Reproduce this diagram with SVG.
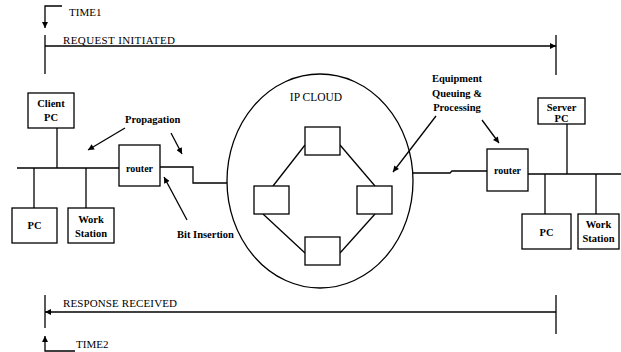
<svg xmlns="http://www.w3.org/2000/svg" width="621" height="352" viewBox="0 0 621 352">
<defs>
<style>
.ln{stroke:#000;stroke-width:1.3;fill:none}
.bx{stroke:#000;stroke-width:1.3;fill:#fff}
.t{font-family:"Liberation Serif","Times New Roman",serif;font-size:11px;fill:#000}
.b{font-family:"Liberation Serif","Times New Roman",serif;font-size:10.5px;font-weight:bold;fill:#000}
.m{text-anchor:middle}
</style>
<marker id="ah" viewBox="0 0 10 10" refX="10" refY="5" markerWidth="7" markerHeight="6" markerUnits="userSpaceOnUse" orient="auto">
<path d="M0,0 L10,5 L0,10 z" fill="#000"/>
</marker>
</defs>
<rect width="621" height="352" fill="#fff"/>
<g id="connectors">
<!-- timeline -->
<polyline class="ln" points="62,6 45,6 45,28" marker-end="url(#ah)"/>
<line class="ln" x1="45" y1="35" x2="45" y2="74"/>
<line class="ln" x1="45" y1="46" x2="556" y2="46" marker-end="url(#ah)"/>
<line class="ln" x1="556" y1="35" x2="556" y2="75"/>
<line class="ln" x1="45" y1="295" x2="45" y2="328"/>
<line class="ln" x1="556" y1="312" x2="45" y2="312" marker-end="url(#ah)"/>
<line class="ln" x1="556" y1="295" x2="556" y2="334"/>
<polyline class="ln" points="75,351 45,351 45,336" marker-end="url(#ah)"/>
<!-- left LAN -->
<line class="ln" x1="17" y1="168" x2="119" y2="168"/>
<line class="ln" x1="57" y1="128" x2="57" y2="168"/>
<line class="ln" x1="34" y1="168" x2="34" y2="208"/>
<line class="ln" x1="86" y1="168" x2="86" y2="208"/>
<polyline class="ln" points="160,167 193,167 193,183 227,183"/>
<!-- cloud links -->
<line class="ln" x1="305" y1="145" x2="273" y2="186"/>
<line class="ln" x1="340" y1="145" x2="375" y2="186"/>
<line class="ln" x1="263" y1="214" x2="305" y2="253"/>
<line class="ln" x1="375" y1="214" x2="340" y2="253"/>
<!-- right LAN -->
<polyline class="ln" points="413,173 450,173 452,171 487,171"/>
<line class="ln" x1="528" y1="174" x2="621" y2="174"/>
<line class="ln" x1="567" y1="124" x2="567" y2="174"/>
<line class="ln" x1="545" y1="174" x2="545" y2="214"/>
<line class="ln" x1="596" y1="174" x2="596" y2="214"/>
<!-- label arrows -->
<line class="ln" x1="125" y1="128" x2="88" y2="150" marker-end="url(#ah)"/>
<line class="ln" x1="171" y1="133" x2="182" y2="154" marker-end="url(#ah)"/>
<line class="ln" x1="187" y1="220" x2="164" y2="177" marker-end="url(#ah)"/>
<line class="ln" x1="436" y1="116" x2="393" y2="172" marker-end="url(#ah)"/>
<line class="ln" x1="482" y1="120" x2="499" y2="143" marker-end="url(#ah)"/>
</g>
<g id="labels">
<text class="t" x="69" y="16">TIME1</text>
<text class="t" x="63" y="44" textLength="112">REQUEST  INITIATED</text>
<text class="t" x="63" y="307" textLength="114">RESPONSE  RECEIVED</text>
<text class="t" x="76" y="348">TIME2</text>
<text class="b" x="125" y="123">Propagation</text>
<text class="b" x="177" y="238">Bit Insertion</text>
<text class="b m" x="457" y="82">Equipment</text>
<text class="b m" x="457" y="97">Queuing &amp;</text>
<text class="b m" x="457" y="111">Processing</text>
</g>
<g id="ip-cloud">
<ellipse class="ln" cx="320" cy="181" rx="93" ry="107"/>
<text class="t m" x="316" y="101" style="font-size:11.5px">IP CLOUD</text>
</g>
<g id="cloud-top"><rect class="bx" x="305" y="127" width="35" height="28"/></g>
<g id="cloud-left"><rect class="bx" x="254" y="186" width="35" height="28"/></g>
<g id="cloud-right"><rect class="bx" x="357" y="186" width="35" height="28"/></g>
<g id="cloud-bottom"><rect class="bx" x="305" y="237" width="35" height="28"/></g>
<g id="client-pc">
<rect class="bx" x="28" y="93" width="46" height="35"/>
<text class="b m" x="51" y="107">Client</text>
<text class="b m" x="51" y="121">PC</text>
</g>
<g id="left-pc">
<rect class="bx" x="12" y="208" width="45" height="35"/>
<text class="b m" x="34.5" y="229">PC</text>
</g>
<g id="left-workstation">
<rect class="bx" x="68" y="208" width="46" height="35"/>
<text class="b m" x="91" y="223">Work</text>
<text class="b m" x="91" y="237">Station</text>
</g>
<g id="left-router">
<rect class="bx" x="119" y="145" width="41" height="41"/>
<text class="b m" x="139.5" y="172" style="font-size:10px">router</text>
</g>
<g id="right-router">
<rect class="bx" x="487" y="149" width="41" height="42"/>
<text class="b m" x="507.5" y="174" style="font-size:10px">router</text>
</g>
<g id="server-pc">
<rect class="bx" x="538" y="98" width="47" height="26"/>
<text class="b m" x="561.5" y="111">Server</text>
<text class="b m" x="561.5" y="122">PC</text>
</g>
<g id="right-pc">
<rect class="bx" x="522" y="214" width="49" height="35"/>
<text class="b m" x="546.5" y="236">PC</text>
</g>
<g id="right-workstation">
<rect class="bx" x="578" y="214" width="41" height="35"/>
<text class="b m" x="598.5" y="228">Work</text>
<text class="b m" x="598.5" y="242">Station</text>
</g>
</svg>
